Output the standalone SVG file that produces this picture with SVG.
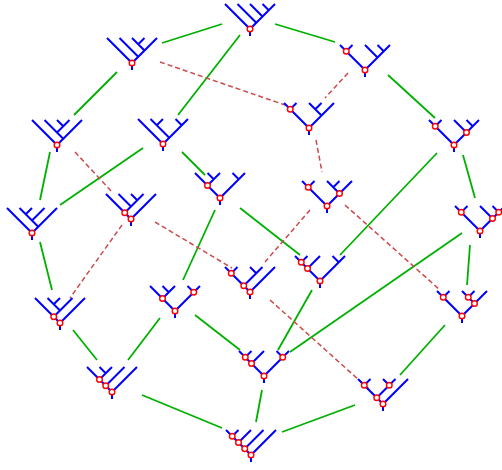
<svg xmlns="http://www.w3.org/2000/svg" width="502" height="470" viewBox="0 0 502 470">
<style>
.t{fill:none;stroke:#0000ff;stroke-width:2}
.c{fill:#ffffff;stroke:#ff0000;stroke-width:1.4}
.g{fill:none;stroke:#00b000;stroke-width:1.8}
.d{fill:none;stroke:#cc4a4a;stroke-width:1.5;stroke-dasharray:5 3}
</style>
<defs>
<path id="v" d="M0,0 L25,25 L50,0 M25,25 V32"/>
</defs>
<rect width="502" height="470" fill="#ffffff"/>
<g id="connectors">
<line class="g" x1="162" y1="43" x2="222" y2="24"/>
<line class="g" x1="240" y1="35" x2="178" y2="115"/>
<line class="g" x1="275" y1="24" x2="335" y2="42"/>
<line class="g" x1="117" y1="72" x2="74" y2="115"/>
<line class="g" x1="388" y1="75" x2="435" y2="118"/>
<line class="g" x1="50" y1="152" x2="40" y2="200"/>
<line class="g" x1="143" y1="148" x2="60" y2="205"/>
<line class="g" x1="182" y1="152" x2="205" y2="175"/>
<line class="g" x1="463" y1="155" x2="475" y2="198"/>
<line class="g" x1="437" y1="153" x2="340" y2="255"/>
<line class="g" x1="215" y1="210" x2="183" y2="280"/>
<line class="g" x1="240" y1="208" x2="300" y2="255"/>
<line class="g" x1="40" y1="242" x2="52" y2="290"/>
<line class="g" x1="470" y1="245" x2="467" y2="285"/>
<line class="g" x1="462" y1="233" x2="290" y2="352"/>
<line class="g" x1="312" y1="290" x2="278" y2="350"/>
<line class="g" x1="73" y1="330" x2="97" y2="360"/>
<line class="g" x1="160" y1="318" x2="128" y2="360"/>
<line class="g" x1="195" y1="315" x2="240" y2="350"/>
<line class="g" x1="445" y1="325" x2="400" y2="375"/>
<line class="g" x1="142" y1="395" x2="222" y2="428"/>
<line class="g" x1="262" y1="390" x2="256" y2="422"/>
<line class="g" x1="355" y1="405" x2="282" y2="432"/>
<line class="d" x1="160" y1="62" x2="285" y2="105"/>
<line class="d" x1="348" y1="73" x2="325" y2="98"/>
<line class="d" x1="316" y1="140" x2="322" y2="172"/>
<line class="d" x1="75" y1="152" x2="112" y2="192"/>
<line class="d" x1="122" y1="225" x2="70" y2="298"/>
<line class="d" x1="155" y1="222" x2="232" y2="268"/>
<line class="d" x1="310" y1="210" x2="265" y2="262"/>
<line class="d" x1="345" y1="205" x2="440" y2="290"/>
<line class="d" x1="270" y1="300" x2="370" y2="390"/>
</g>
<g id="A" transform="translate(225,4)"><use href="#v" class="t"/><path class="t" d="M31.25,18.75 L12.5,0 M37.5,12.5 L25,0 M43.75,6.25 L37.5,0"/><circle class="c" cx="25" cy="25" r="2.8"/></g>
<g id="B" transform="translate(107,38)"><use href="#v" class="t"/><path class="t" d="M31.25,18.75 L12.5,0 M37.5,12.5 L25,0 M31.25,6.25 L37.5,0"/><circle class="c" cx="25" cy="25" r="2.8"/></g>
<g id="C" transform="translate(340,45)"><use href="#v" class="t"/><path class="t" d="M6.25,6.25 L12.5,0 M37.5,12.5 L25,0 M43.75,6.25 L37.5,0"/><circle class="c" cx="25" cy="25" r="2.8"/><circle class="c" cx="6.25" cy="6.25" r="2.8"/></g>
<g id="D" transform="translate(284,103)"><use href="#v" class="t"/><path class="t" d="M6.25,6.25 L12.5,0 M37.5,12.5 L25,0 M31.25,6.25 L37.5,0"/><circle class="c" cx="25" cy="25" r="2.8"/><circle class="c" cx="6.25" cy="6.25" r="2.8"/></g>
<g id="E" transform="translate(32,120)"><use href="#v" class="t"/><path class="t" d="M31.25,18.75 L12.5,0 M25,12.5 L37.5,0 M31.25,6.25 L25,0"/><circle class="c" cx="25" cy="25" r="2.8"/></g>
<g id="F" transform="translate(138,119)"><use href="#v" class="t"/><path class="t" d="M31.25,18.75 L12.5,0 M18.75,6.25 L25,0 M43.75,6.25 L37.5,0"/><circle class="c" cx="25" cy="25" r="2.8"/></g>
<g id="G" transform="translate(429,120)"><use href="#v" class="t"/><path class="t" d="M6.25,6.25 L12.5,0 M37.5,12.5 L25,0 M43.75,6.25 L37.5,0"/><circle class="c" cx="25" cy="25" r="2.8"/><circle class="c" cx="6.25" cy="6.25" r="2.8"/><circle class="c" cx="37.5" cy="12.5" r="2.8"/></g>
<g id="H" transform="translate(195,173)"><use href="#v" class="t"/><path class="t" d="M12.5,12.5 L25,0 M18.75,6.25 L12.5,0 M43.75,6.25 L37.5,0"/><circle class="c" cx="25" cy="25" r="2.8"/><circle class="c" cx="12.5" cy="12.5" r="2.8"/></g>
<g id="I" transform="translate(302,181)"><use href="#v" class="t"/><path class="t" d="M6.25,6.25 L12.5,0 M37.5,12.5 L25,0 M31.25,6.25 L37.5,0"/><circle class="c" cx="25" cy="25" r="2.8"/><circle class="c" cx="6.25" cy="6.25" r="2.8"/><circle class="c" cx="37.5" cy="12.5" r="2.8"/></g>
<g id="J" transform="translate(7,208)"><use href="#v" class="t"/><path class="t" d="M31.25,18.75 L12.5,0 M25,12.5 L37.5,0 M18.75,6.25 L25,0"/><circle class="c" cx="25" cy="25" r="2.8"/></g>
<g id="K" transform="translate(106,194)"><use href="#v" class="t"/><path class="t" d="M18.75,18.75 L37.5,0 M25,12.5 L12.5,0 M31.25,6.25 L25,0"/><circle class="c" cx="25" cy="25" r="2.8"/><circle class="c" cx="18.75" cy="18.75" r="2.8"/></g>
<g id="L" transform="translate(455,206)"><use href="#v" class="t"/><path class="t" d="M6.25,6.25 L12.5,0 M37.5,12.5 L25,0 M43.75,6.25 L37.5,0"/><circle class="c" cx="25" cy="25" r="2.8"/><circle class="c" cx="6.25" cy="6.25" r="2.8"/><circle class="c" cx="37.5" cy="12.5" r="2.8"/><circle class="c" cx="43.75" cy="6.25" r="2.8"/></g>
<g id="M" transform="translate(225,267)"><use href="#v" class="t"/><path class="t" d="M18.75,18.75 L37.5,0 M31.25,6.25 L25,0 M6.25,6.25 L12.5,0"/><circle class="c" cx="25" cy="25" r="2.8"/><circle class="c" cx="18.75" cy="18.75" r="2.8"/><circle class="c" cx="6.25" cy="6.25" r="2.8"/></g>
<g id="N" transform="translate(295,256)"><use href="#v" class="t"/><path class="t" d="M12.5,12.5 L25,0 M6.25,6.25 L12.5,0 M43.75,6.25 L37.5,0"/><circle class="c" cx="25" cy="25" r="2.8"/><circle class="c" cx="12.5" cy="12.5" r="2.8"/><circle class="c" cx="6.25" cy="6.25" r="2.8"/></g>
<g id="O" transform="translate(35,298)"><use href="#v" class="t"/><path class="t" d="M18.75,18.75 L37.5,0 M25,12.5 L12.5,0 M18.75,6.25 L25,0"/><circle class="c" cx="25" cy="25" r="2.8"/><circle class="c" cx="18.75" cy="18.75" r="2.8"/></g>
<g id="P" transform="translate(150,286)"><use href="#v" class="t"/><path class="t" d="M12.5,12.5 L25,0 M18.75,6.25 L12.5,0 M43.75,6.25 L37.5,0"/><circle class="c" cx="25" cy="25" r="2.8"/><circle class="c" cx="12.5" cy="12.5" r="2.8"/><circle class="c" cx="43.75" cy="6.25" r="2.8"/></g>
<g id="Q" transform="translate(437,291)"><use href="#v" class="t"/><path class="t" d="M6.25,6.25 L12.5,0 M37.5,12.5 L25,0 M31.25,6.25 L37.5,0"/><circle class="c" cx="25" cy="25" r="2.8"/><circle class="c" cx="6.25" cy="6.25" r="2.8"/><circle class="c" cx="37.5" cy="12.5" r="2.8"/><circle class="c" cx="31.25" cy="6.25" r="2.8"/></g>
<g id="R" transform="translate(87,367)"><use href="#v" class="t"/><path class="t" d="M18.75,18.75 L37.5,0 M12.5,12.5 L25,0 M18.75,6.25 L12.5,0"/><circle class="c" cx="25" cy="25" r="2.8"/><circle class="c" cx="18.75" cy="18.75" r="2.8"/><circle class="c" cx="12.5" cy="12.5" r="2.8"/></g>
<g id="S" transform="translate(239,351)"><use href="#v" class="t"/><path class="t" d="M12.5,12.5 L25,0 M6.25,6.25 L12.5,0 M43.75,6.25 L37.5,0"/><circle class="c" cx="25" cy="25" r="2.8"/><circle class="c" cx="12.5" cy="12.5" r="2.8"/><circle class="c" cx="6.25" cy="6.25" r="2.8"/><circle class="c" cx="43.75" cy="6.25" r="2.8"/></g>
<g id="T" transform="translate(358,379)"><use href="#v" class="t"/><path class="t" d="M18.75,18.75 L37.5,0 M31.25,6.25 L25,0 M6.25,6.25 L12.5,0"/><circle class="c" cx="25" cy="25" r="2.8"/><circle class="c" cx="18.75" cy="18.75" r="2.8"/><circle class="c" cx="6.25" cy="6.25" r="2.8"/><circle class="c" cx="31.25" cy="6.25" r="2.8"/></g>
<g id="U" transform="translate(226,430)"><use href="#v" class="t"/><path class="t" d="M18.75,18.75 L37.5,0 M12.5,12.5 L25,0 M6.25,6.25 L12.5,0"/><circle class="c" cx="25" cy="25" r="2.8"/><circle class="c" cx="18.75" cy="18.75" r="2.8"/><circle class="c" cx="12.5" cy="12.5" r="2.8"/><circle class="c" cx="6.25" cy="6.25" r="2.8"/></g>
</svg>
